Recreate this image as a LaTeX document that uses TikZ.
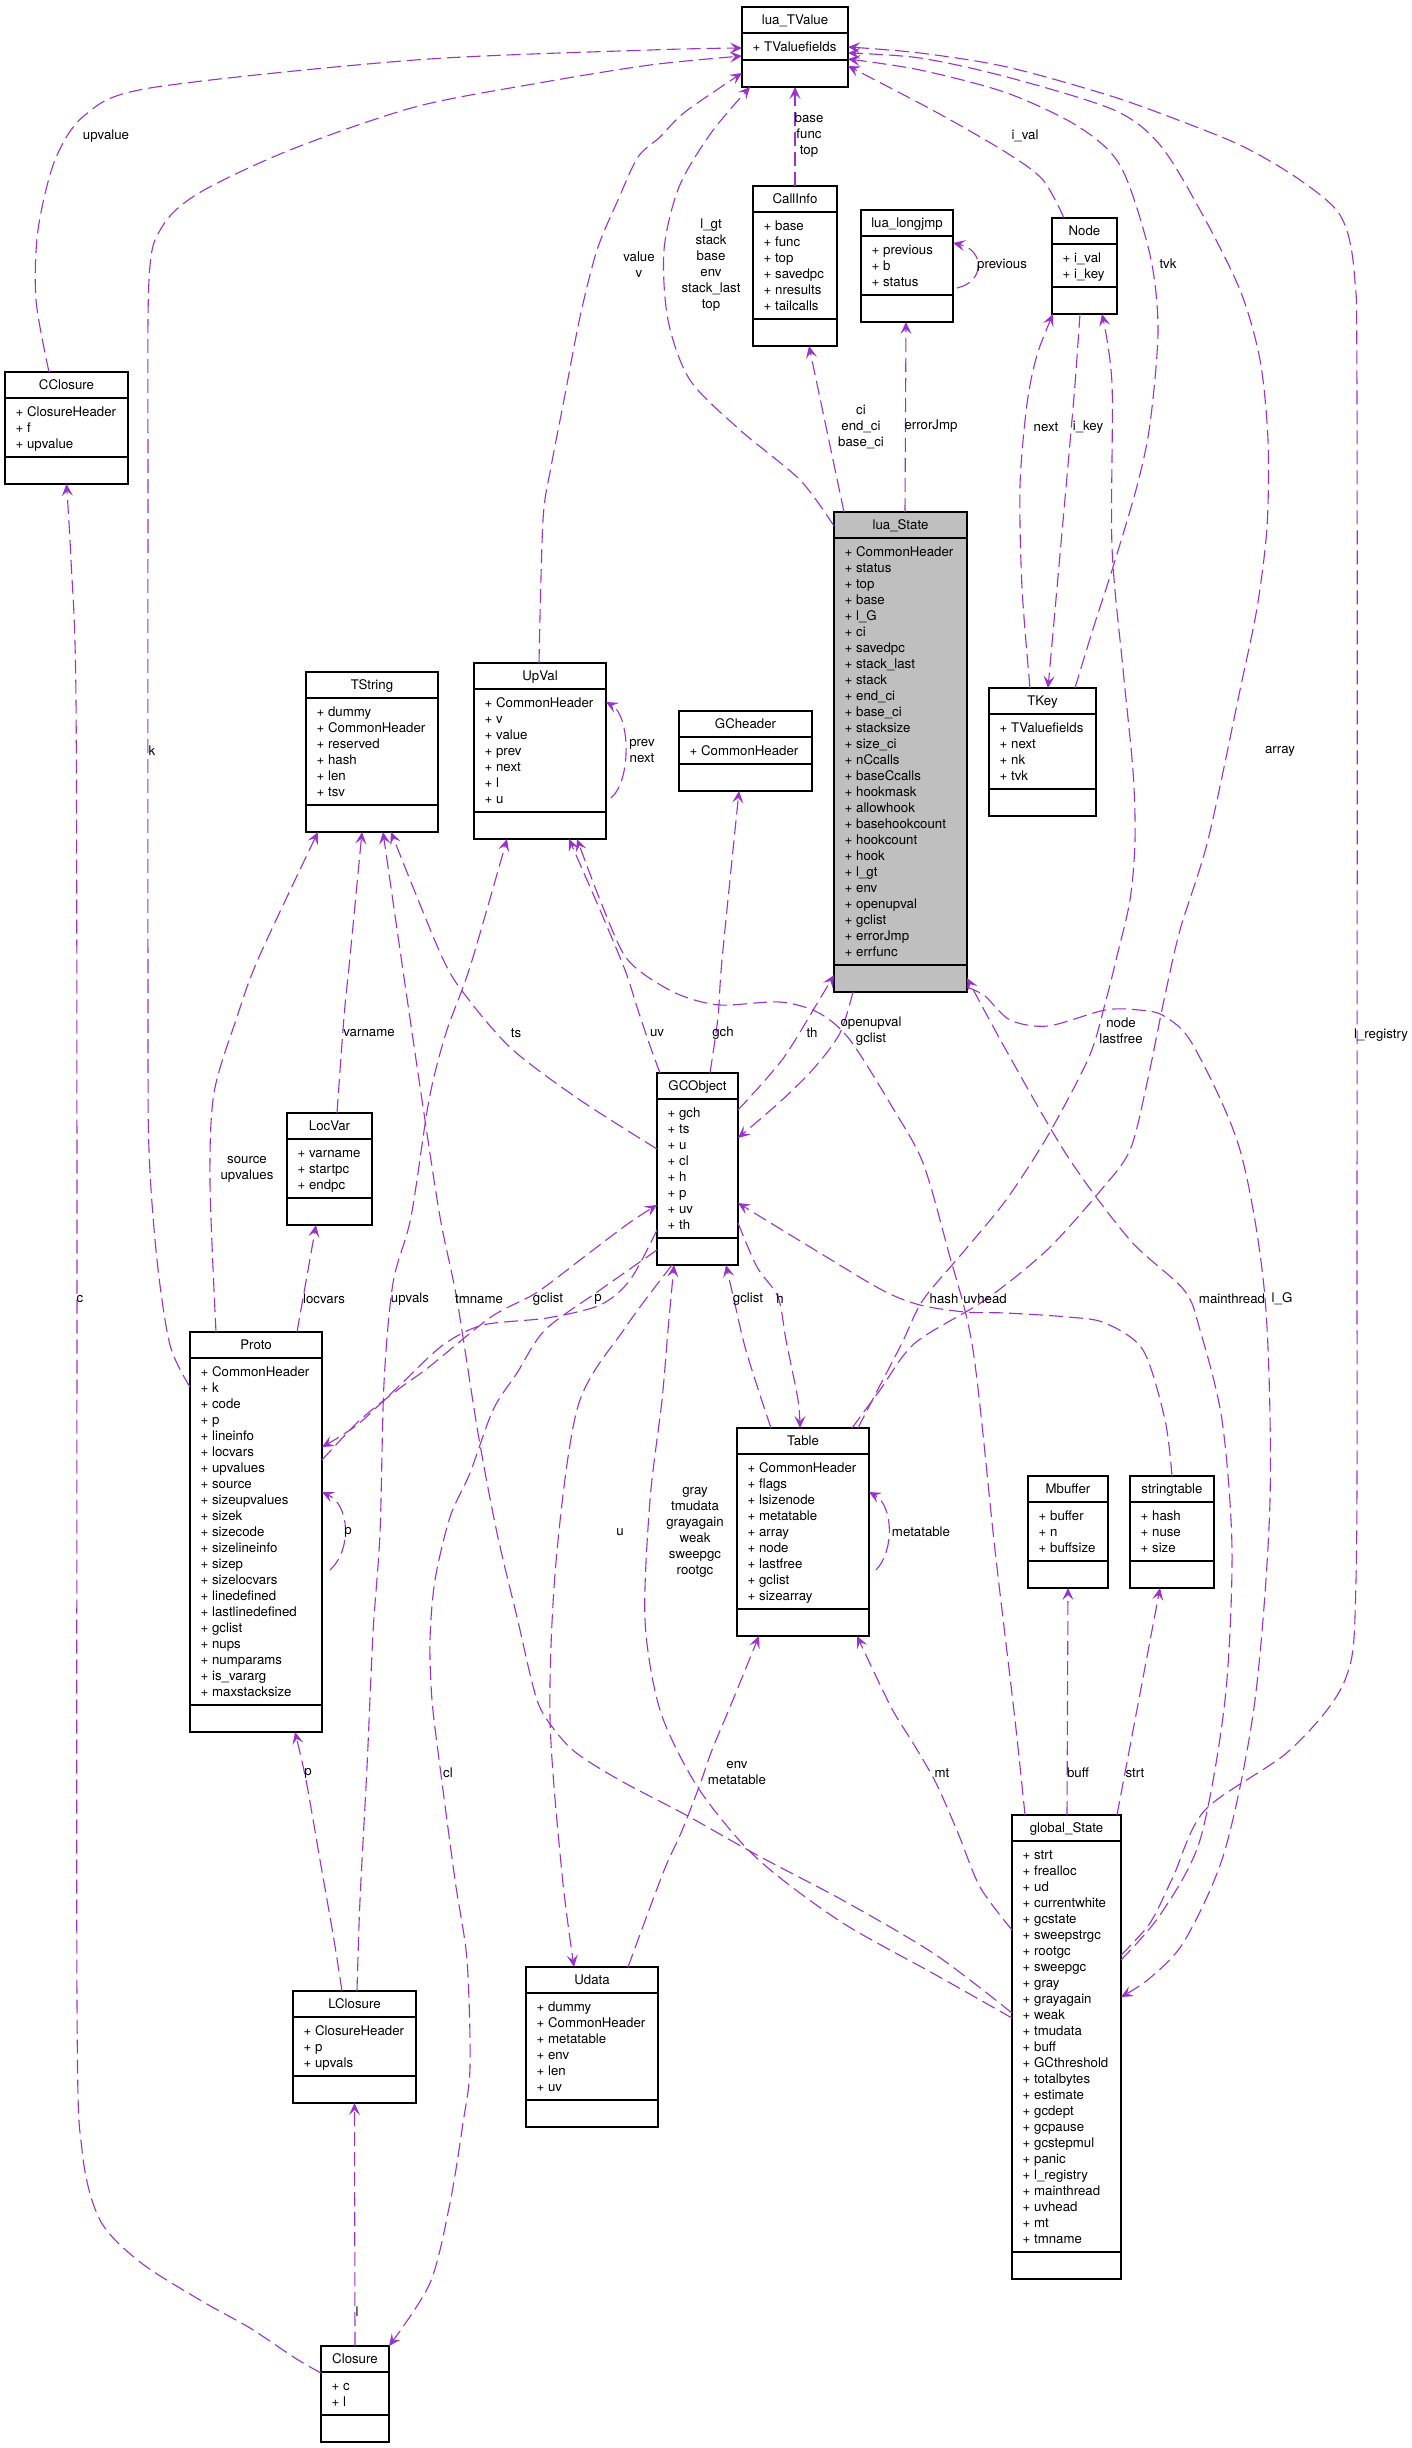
\documentclass[tikz,border=0pt]{standalone}
\usepackage{fontspec}
\setmainfont{TeX Gyre Heros}
\usetikzlibrary{arrows.meta,calc}
\definecolor{edgec}{HTML}{9A32CD}
\definecolor{stategray}{HTML}{BFBFBF}
\tikzset{
 classbox/.style={draw=black, line width=1.1pt, inner sep=0pt, outer sep=0pt, anchor=north west},
 sepline/.style={draw=black, line width=1.1pt},
 titletext/.style={anchor=base, inner sep=0pt, font=\fontsize{13.25}{16}\selectfont},
 attrtext/.style={anchor=north west, inner sep=0pt, align=left, font=\fontsize{13.25}{16}\selectfont},
 conn/.style={draw=edgec, line width=1.1pt, dash pattern=on 14pt off 6pt, -{Stealth[length=12pt,width=11pt,inset=5pt]}},
 elabel/.style={align=center, inner sep=0pt, font=\fontsize{13.25}{16}\selectfont, text=black},
}
\newcommand{\umlclass}[8]{%
 \node[classbox, fill=#8, minimum width=#4pt, minimum height={(64+16*#5)*1pt}] (#1) at (#2,#3) {};
 \draw[sepline] ($(#1.north west)+(0,26)$) -- ($(#1.north east)+(0,26)$);
 \draw[sepline] ($(#1.south west)+(0,-27)$) -- ($(#1.south east)+(0,-27)$);
 \node[titletext] at ($(#1.north)+(0,17.3)$) {#6};
 \node[attrtext] at ($(#1.north west)+(10.5,33.1)$) {\strut#7};
}
\begin{document}
\begin{tikzpicture}[x=1pt,y=-1pt]
\fill[white] (0,0) rectangle (1412,2448);
\useasboundingbox (0,0) rectangle (1412,2448);

% ---------- classes ----------
\umlclass{luaTValue}{742}{7}{106}{1}{lua\_TValue}{+ TValuefields}{white}
\umlclass{CallInfo}{753}{186}{84}{6}{CallInfo}{+ base\\+ func\\+ top\\+ savedpc\\+ nresults\\+ tailcalls}{white}
\umlclass{longjmp}{861}{210}{92}{3}{lua\_longjmp}{+ previous\\+ b\\+ status}{white}
\umlclass{Node}{1052}{218}{65}{2}{Node}{+ i\_val\\+ i\_key}{white}
\umlclass{TKey}{989}{688}{107}{4}{TKey}{+ TValuefields\\+ next\\+ nk\\+ tvk}{white}
\umlclass{luaState}{834}{512}{133}{26}{lua\_State}{+ CommonHeader\\+ status\\+ top\\+ base\\+ l\_G\\+ ci\\+ savedpc\\+ stack\_last\\+ stack\\+ end\_ci\\+ base\_ci\\+ stacksize\\+ size\_ci\\+ nCcalls\\+ baseCcalls\\+ hookmask\\+ allowhook\\+ basehookcount\\+ hookcount\\+ hook\\+ l\_gt\\+ env\\+ openupval\\+ gclist\\+ errorJmp\\+ errfunc}{stategray}
\umlclass{CClosure}{5}{372}{123}{3}{CClosure}{+ ClosureHeader\\+ f\\+ upvalue}{white}
\umlclass{TString}{306}{672}{132}{6}{TString}{+ dummy\\+ CommonHeader\\+ reserved\\+ hash\\+ len\\+ tsv}{white}
\umlclass{UpVal}{474}{663}{132}{7}{UpVal}{+ CommonHeader\\+ v\\+ value\\+ prev\\+ next\\+ l\\+ u}{white}
\umlclass{GCheader}{679}{711}{133}{1}{GCheader}{+ CommonHeader}{white}
\umlclass{GCObject}{657}{1073}{81}{8}{GCObject}{+ gch\\+ ts\\+ u\\+ cl\\+ h\\+ p\\+ uv\\+ th}{white}
\umlclass{LocVar}{287}{1113}{85}{3}{LocVar}{+ varname\\+ startpc\\+ endpc}{white}
\umlclass{Proto}{190}{1332}{132}{21}{Proto}{+ CommonHeader\\+ k\\+ code\\+ p\\+ lineinfo\\+ locvars\\+ upvalues\\+ source\\+ sizeupvalues\\+ sizek\\+ sizecode\\+ sizelineinfo\\+ sizep\\+ sizelocvars\\+ linedefined\\+ lastlinedefined\\+ gclist\\+ nups\\+ numparams\\+ is\_vararg\\+ maxstacksize}{white}
\umlclass{Table}{737}{1428}{132}{9}{Table}{+ CommonHeader\\+ flags\\+ lsizenode\\+ metatable\\+ array\\+ node\\+ lastfree\\+ gclist\\+ sizearray}{white}
\umlclass{Mbuffer}{1028}{1476}{80}{3}{Mbuffer}{+ buffer\\+ n\\+ buffsize}{white}
\umlclass{stringtable}{1130}{1476}{84}{3}{stringtable}{+ hash\\+ nuse\\+ size}{white}
\umlclass{globalState}{1012}{1815}{109}{25}{global\_State}{+ strt\\+ frealloc\\+ ud\\+ currentwhite\\+ gcstate\\+ sweepstrgc\\+ rootgc\\+ sweepgc\\+ gray\\+ grayagain\\+ weak\\+ tmudata\\+ buff\\+ GCthreshold\\+ totalbytes\\+ estimate\\+ gcdept\\+ gcpause\\+ gcstepmul\\+ panic\\+ l\_registry\\+ mainthread\\+ uvhead\\+ mt\\+ tmname}{white}
\umlclass{LClosure}{293}{1991}{123}{3}{LClosure}{+ ClosureHeader\\+ p\\+ upvals}{white}
\umlclass{Udata}{526}{1967}{132}{6}{Udata}{+ dummy\\+ CommonHeader\\+ metatable\\+ env\\+ len\\+ uv}{white}
\umlclass{Closure}{321}{2346}{68}{2}{Closure}{+ c\\+ l}{white}

% ---------- connectors into lua_TValue ----------
\draw[conn] plot[smooth] coordinates {($(CClosure.north west)+(44,0)$) (36,300) (38,230) (55,160) (85,115) (150,88) (415,60) (650,50) ($(luaTValue.north west)+(0,41)$)};
\draw[conn] plot[smooth] coordinates {($(Proto.north west)+(0,55)$) (170,1345) (157,1260) (149,1150) (148,1000) (148,500) (149,280) (162,227) (199,193) (290,150) (415,107) (539,83) (650,65) ($(luaTValue.north west)+(0,49)$)};
\draw[conn] plot[smooth] coordinates {($(UpVal.north west)+(65,0)$) (543,520) (551,467) (564,400) (580,317) (597,250) (618,200) (638,157) (660,137) (685,112) ($(luaTValue.north west)+(0,66)$)};
\draw[conn] plot[smooth] coordinates {($(luaState.north west)+(0,14)$) (800,480) (740,430) (690,380) (668,320) (664,250) (679,187) (711,133) ($(luaTValue.south west)+(8,0)$)};
\draw[conn] (CallInfo.north) -- (luaTValue.south);
\draw[conn] plot[smooth] coordinates {($(Node.north west)+(12,0)$) (1043,180) (1007,153) (936,112) ($(luaTValue.north east)+(0,59)$)};
\draw[conn] plot[smooth] coordinates {($(TKey.north west)+(86,0)$) (1093,629) (1113,567) (1137,486) (1150,424) (1158,330) (1150,255) (1121,167) (1079,127) (1007,93) (920,70) ($(luaTValue.north east)+(0,52)$)};
\draw[conn] plot[smooth] coordinates {($(Table.north west)+(115,0)$) (880,1390) (915,1343) (985,1300) (1047,1250) (1101,1190) (1130,1150) (1147,1083) (1164,1000) (1180,930) (1208,840) (1240,690) (1257,608) (1267,527) (1268,440) (1260,360) (1240,290) (1200,210) (1160,145) (1114,110) (1007,77) (920,58) ($(luaTValue.north east)+(0,46)$)};
\draw[conn] plot[smooth] coordinates {($(globalState.north east)+(0,140)$) (1150,1923) (1173,1877) (1205,1810) (1290,1750) (1345,1680) (1356,1580) (1357,1200) (1357,400) (1354,270) (1340,215) (1300,180) (1250,150) (1204,130) (1114,97) (1007,67) (920,53) ($(luaTValue.north east)+(0,40)$)};

% ---------- lua_State, CallInfo, longjmp, Node, TKey ----------
\draw[conn] ($(luaState.north west)+(10,0)$) -- ($(CallInfo.south west)+(56,0)$);
\draw[conn] ($(luaState.north west)+(71,0)$) -- ($(longjmp.south west)+(45,0)$);
\draw[conn] ($(longjmp.north east)+(4,78)$) .. controls (985,282) and (985,250) .. ($(longjmp.north east)+(0,33)$);
\draw[conn] plot[smooth] coordinates {($(TKey.north west)+(41,0)$) (1022,588) (1020,486) (1027,404) (1037,355) ($(Node.south west)+(1,0)$)};
\draw[conn] plot[smooth] coordinates {($(Node.south west)+(28,0)$) (1075,384) (1068,465) (1057,588) ($(TKey.north west)+(59,0)$)};
\draw[conn] plot[smooth] coordinates {($(Table.north west)+(121,0)$) (875,1395) (902,1343) (923,1300) (965,1250) (1006,1200) (1047,1137) (1089,1057) (1106,1000) (1116,960) (1130,900) (1135,840) (1133,771) (1123,669) (1112,547) (1112,384) ($(Node.south west)+(50,0)$)};
\draw[conn] plot[smooth] coordinates {($(GCObject.north east)+(0,37)$) (782,1060) (815,1007) ($(luaState.south west)+(0,-17)$)};
\draw[conn] plot[smooth] coordinates {($(luaState.south west)+(19,0)$) (840,1033) (815,1067) (782,1100) ($(GCObject.north east)+(0,65)$)};
\draw[conn] plot[smooth] coordinates {($(globalState.north east)+(0,145)$) (1160,1915) (1200,1840) (1225,1700) (1232,1550) (1222,1420) (1200,1330) (1184,1290) (1130,1240) (1068,1157) (1006,1050) ($(luaState.south east)+(0,-14)$)};
\draw[conn] plot[smooth] coordinates {($(luaState.south east)+(0,-5)$) (985,996) (1010,1020) (1048,1026) (1105,1010) (1139,1010) (1164,1016) (1193,1045) (1240,1150) (1265,1298) (1270,1500) (1255,1700) (1225,1850) (1185,1940) (1150,1978) ($(globalState.north east)+(0,182)$)};

% ---------- UpVal ----------
\draw[conn] plot[smooth] coordinates {($(globalState.north west)+(13,0)$) (1015,1720) (995,1550) (973,1350) (948,1250) (923,1163) (894,1110) (850,1040) (819,1013) (780,1002) (720,1005) (680,995) (645,975) (623,953) (600,900) ($(UpVal.south west)+(103,0)$)};
\draw[conn] plot[smooth] coordinates {($(GCObject.north west)+(3,0)$) (649,1043) (637,1007) (625,970) (600,910) ($(UpVal.south west)+(95,0)$)};
\draw[conn] plot[smooth] coordinates {($(LClosure.north west)+(64,0)$) (360,1900) (367,1767) (373,1633) (380,1533) (384,1383) (393,1283) (411,1217) (429,1100) (446,1033) (470,967) ($(UpVal.south west)+(33,0)$)};
\draw[conn] ($(UpVal.north east)+(5,135)$) .. controls (632,780) and (630,715) .. ($(UpVal.north east)+(0,39)$);

% ---------- GCheader, TString ----------
\draw[conn] plot[smooth] coordinates {($(GCObject.north west)+(53,0)$) (718,1017) (722,960) ($(GCheader.south west)+(60,0)$)};
\draw[conn] plot[smooth] coordinates {($(GCObject.north west)+(0,76)$) (580,1100) (513,1050) (469,1000) (442,957) ($(TString.south west)+(85,0)$)};
\draw[conn] plot[smooth] coordinates {($(LocVar.north west)+(50,0)$) (344,1017) (350,957) ($(TString.south west)+(56,0)$)};
\draw[conn] plot[smooth] coordinates {($(Proto.north west)+(26,0)$) (210,1183) (214,1093) (237,1017) (259,957) ($(TString.south west)+(12,0)$)};
\draw[conn] plot[smooth] coordinates {($(globalState.north west)+(0,198)$) (936,1955) (846,1902) (757,1855) (686,1815) (623,1782) (579,1755) (557,1733) (537,1700) (517,1617) (497,1533) (478,1433) (457,1300) (440,1217) (422,1100) (400,950) ($(TString.south west)+(77,0)$)};

% ---------- GCObject ----------
\draw[conn] plot[smooth] coordinates {($(globalState.north west)+(0,203)$) (936,1975) (846,1925) (779,1877) (739,1840) (695,1783) (660,1710) (645,1620) (650,1500) (662,1400) (668,1330) ($(GCObject.south west)+(17,0)$)};
\draw[conn] plot[smooth] coordinates {($(Proto.north east)+(0,128)$) (360,1420) (400,1388) (429,1367) (491,1317) (536,1293) (580,1260) (629,1223) ($(GCObject.north west)+(0,132)$)};
\draw[conn] plot[smooth] coordinates {($(GCObject.south west)+(0,-35)$) (630,1280) (600,1305) (547,1318) (483,1325) (443,1345) (400,1385) (357,1425) ($(Proto.north east)+(0,115)$)};
\draw[conn] plot[smooth] coordinates {($(GCObject.south west)+(0,-15)$) (600,1290) (545,1330) (517,1373) (493,1410) (470,1473) (450,1517) (435,1580) (430,1640) (432,1700) (440,1767) (455,1880) (467,1960) (470,2067) (463,2123) (450,2203) (430,2283) (Closure.north east)};
\draw[conn] plot[smooth] coordinates {($(GCObject.south west)+(15,0)$) (625,1328) (578,1406) (556,1562) (550,1718) (562,1874) ($(Udata.north west)+(48,0)$)};
\draw[conn] plot[smooth] coordinates {($(GCObject.north east)+(0,150)$) (757,1267) (778,1297) (786,1340) (798,1400) ($(Table.north west)+(63,0)$)};
\draw[conn] plot[smooth] coordinates {($(Table.north west)+(34,0)$) (760,1395) (745,1347) (734,1300) ($(GCObject.south west)+(69,0)$)};
\draw[conn] plot[smooth] coordinates {(stringtable.north) (1165,1420) (1143,1350) (1105,1323) (1068,1317) (1006,1313) (965,1312) (920,1305) (882,1290) (815,1250) ($(GCObject.north east)+(0,130)$)};

% ---------- Proto, LocVar ----------
\draw[conn] ($(Proto.north west)+(107,0)$) -- ($(LocVar.south west)+(29,0)$);
\draw[conn] ($(Proto.north east)+(8,238)$) .. controls (352,1550) and (350,1505) .. ($(Proto.north east)+(0,160)$);
\draw[conn] plot[smooth] coordinates {($(LClosure.north west)+(49,0)$) (334,1940) (320,1860) (306,1780) ($(Proto.south west)+(105,0)$)};

% ---------- Table ----------
\draw[conn] ($(Table.north east)+(7,142)$) .. controls (895,1550) and (893,1505) .. ($(Table.north east)+(0,64)$);
\draw[conn] plot[smooth] coordinates {($(Udata.north west)+(102,0)$) (663,1873) (681,1833) (699,1787) (712,1750) (730,1707) ($(Table.south west)+(22,0)$)};
\draw[conn] plot[smooth] coordinates {($(globalState.north west)+(0,115)$) (980,1887) (958,1833) (936,1783) (913,1743) (891,1707) ($(Table.south west)+(120,0)$)};

% ---------- Mbuffer, stringtable ----------
\draw[conn] ($(globalState.north west)+(55,0)$) -- (Mbuffer.south);
\draw[conn] ($(globalState.north east)+(-4,0)$) -- ($(stringtable.south west)+(30,0)$);

% ---------- Closures ----------
\draw[conn] (Closure.north) -- (LClosure.south);
\draw[conn] plot[smooth] coordinates {($(Closure.north west)+(0,27)$) (295,2358) (250,2328) (200,2300) (140,2262) (100,2220) (82,2150) (77,2000) (77,1200) (76,700) (71,560) (CClosure.south)};

% ---------- labels ----------
\node[elabel] (l1) at (106,136) {upvalue};
\node[elabel] (l2) at (152,751) {k};
\node[elabel] (l3) at (639,265) {value\\v};
\node[elabel] (l4) at (711,265) {l\_gt\\stack\\base\\env\\stack\_last\\top};
\node[elabel] (l5) at (809,135) {base\\func\\top};
\node[elabel] (l6) at (1025,136) {i\_val};
\node[elabel] (l7) at (1002,265) {previous};
\node[elabel] (l8) at (1168,264) {tvk};
\node[elabel] (l9) at (861,427) {ci\\end\_ci\\base\_ci};
\node[elabel] (l10) at (931,426) {errorJmp};
\node[elabel] (l11) at (1046,427) {next};
\node[elabel] (l12) at (1088,427) {i\_key};
\node[elabel] (l13) at (642,751) {prev\\next};
\node[elabel] (l14) at (1280,751) {array};
\node[elabel] (l15) at (369,1033) {varname};
\node[elabel] (l16) at (516,1033) {ts};
\node[elabel] (l17) at (657,1033) {uv};
\node[elabel] (l18) at (723,1033) {gch};
\node[elabel] (l19) at (812,1033) {th};
\node[elabel] (l20) at (871,1031) {openupval\\gclist};
\node[elabel] (l21) at (1121,1031) {node\\lastfree};
\node[elabel] (l22) at (1381,1035) {l\_registry};
\node[elabel] (l23) at (247,1169) {source\\upvalues};
\node[elabel] (l24) at (80,1299) {c};
\node[elabel] (l25) at (324,1299) {locvars};
\node[elabel] (l26) at (410,1299) {upvals};
\node[elabel] (l27) at (479,1299) {tmname};
\node[elabel] (l28) at (548,1299) {gclist};
\node[elabel] (l29) at (598,1299) {p};
\node[elabel] (l30) at (748,1299) {gclist};
\node[elabel] (l31) at (780,1299) {h};
\node[elabel] (l32) at (944,1299) {hash};
\node[elabel] (l33) at (985,1299) {uvhead};
\node[elabel] (l34) at (1232,1299) {mainthread};
\node[elabel] (l35) at (1282,1299) {l\_G};
\node[elabel] (l36) at (348,1532) {p};
\node[elabel] (l37) at (921,1532) {metatable};
\node[elabel] (l38) at (695,1532) {gray\\tmudata\\grayagain\\weak\\sweepgc\\rootgc};
\node[elabel] (l39) at (620,1532) {u};
\node[elabel] (l40) at (448,1773) {cl};
\node[elabel] (l41) at (737,1773) {env\\metatable};
\node[elabel] (l42) at (942,1773) {mt};
\node[elabel] (l43) at (1078,1773) {buff};
\node[elabel] (l44) at (1135,1773) {strt};
\node[elabel] (l45) at (308,1773) {p};
\node[elabel] (l46) at (357,2312) {l};
\end{tikzpicture}
\end{document}
